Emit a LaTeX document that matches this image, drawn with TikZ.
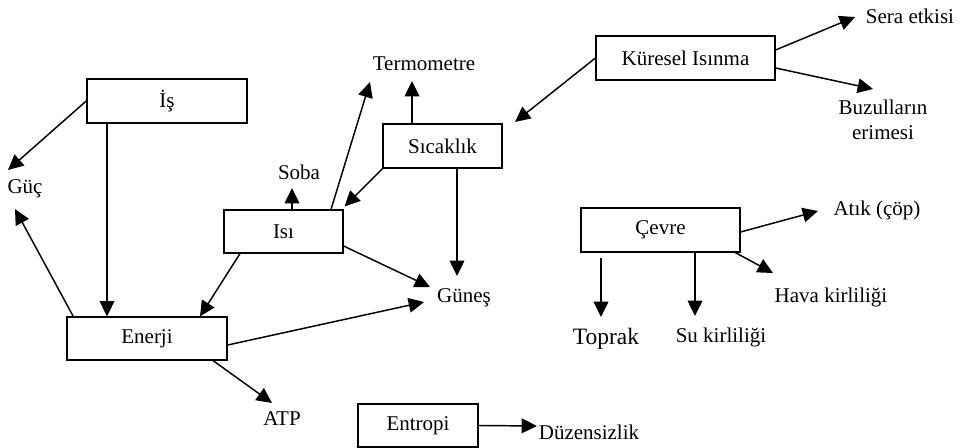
\documentclass[tikz,border=0pt]{standalone}
\usepackage{fontspec}
\setmainfont{Liberation Serif}
\usetikzlibrary{arrows.meta}

\begin{document}
\begin{tikzpicture}[x=0.75pt,y=-0.75pt,
  font=\fontsize{15.75pt}{19pt}\selectfont,
  kutu/.style={draw, line width=1.1pt, inner sep=0pt, minimum height=33pt},
  yazi/.style={inner sep=0pt},
  ok/.style={line width=1.1pt, -{Triangle[length=11.5pt,width=11pt]}}]
\useasboundingbox (0,0) rectangle (974,448);
\node[kutu, minimum width=120pt] (is) at (167,101) {İş};
\node[kutu, minimum width=89pt, minimum height=32pt] (isi) at (283.5,231.5) {Isı};
\node[kutu, minimum width=120pt, minimum height=32pt] (enerji) at (147,338.5) {Enerji};
\node[kutu, minimum width=89pt] (sicaklik) at (442.5,146) {Sıcaklık};
\node[kutu, minimum width=134pt] (kuresel) at (685.5,58) {Küresel Isınma};
\node[kutu, minimum width=119pt] (cevre) at (660.5,230) {Çevre};
\node[kutu, minimum width=90pt, minimum height=32pt] (entropi) at (418,425.5) {Entropi};
\node[yazi] (guc) at (25,189) {Güç};
\node[yazi] (soba) at (299,172) {Soba};
\node[yazi] (termo) at (424,64) {Termometre};
\node[yazi] (gunes) at (464,298) {Güneş};
\node[yazi] (atp) at (282,419) {ATP};
\node[yazi] (sera) at (910,16) {Sera etkisi};
\node[yazi, align=center] (buzul) at (883,120) {Buzulların\\erimesi};
\node[yazi] (atik) at (877,210) {Atık (çöp)};
\node[yazi] (hava) at (831,297) {Hava kirliliği};
\node[yazi, font=\fontsize{17.6pt}{20pt}\selectfont] (toprak) at (606,339) {Toprak};
\node[yazi] (su) at (721,337) {Su kirliliği};
\node[yazi] (duzen) at (589,432) {Düzensizlik};
\coordinate (isinma) at (515,122);
\draw[ok] (is.west) -- ([shift={(-17,-19)}]guc.center);
\draw[ok] ([shift={(-60,0)}]is.south) -- ([shift={(-40,0)}]enerji.north);
\draw[ok] ([shift={(7,0)}]enerji.north west) -- ([shift={(-10,20)}]guc.center);
\draw[ok] ([shift={(-43.5,0)}]isi.south) -- ([shift={(53,0)}]enerji.north);
\draw[ok] ([shift={(0,14.5)}]isi.east) -- ([shift={(-34,-11)}]gunes.center);
\draw[ok] ([shift={(0,6.5)}]enerji.east) -- ([shift={(-40,4)}]gunes.center);
\draw[ok] ([shift={(66,0)}]enerji.south) -- ([shift={(-10,-16)}]atp.center);
\draw[ok] ([shift={(14.5,0)}]sicaklik.south) -- ([shift={(-7,-22)}]gunes.center);
\draw[ok] ([shift={(8.5,0)}]isi.north) -- ([shift={(-7,16)}]soba.center);
\draw[ok] ([shift={(47.5,0)}]isi.north) -- ([shift={(-54,18)}]termo.center);
\draw[ok] (sicaklik.south west) -- ([shift={(1,-3)}]isi.north east);
\draw[ok] ([shift={(-30.5,0)}]sicaklik.north) -- ([shift={(-12,17)}]termo.center);
\draw[ok] (kuresel.west) -- (isinma);
\draw[ok] ([shift={(0,-8)}]kuresel.east) -- ([shift={(-55,1)}]sera.center);
\draw[ok] ([shift={(0,10)}]kuresel.east) -- ([shift={(-10,-31)}]buzul.center);
\draw[ok] ([shift={(0,2)}]cevre.east) -- ([shift={(-59,1)}]atik.center);
\draw[ok] ([shift={(-5,0)}]cevre.south east) -- ([shift={(-58,-24)}]hava.center);
\draw[ok] ([shift={(-59.5,5)}]cevre.south) -- ([shift={(-5,-22)}]toprak.center);
\draw[ok] ([shift={(34.5,0)}]cevre.south) -- ([shift={(-26,-21)}]su.center);
\draw[ok] (entropi.east) -- ([shift={(-52,-6)}]duzen.center);
\end{tikzpicture}
\end{document}
